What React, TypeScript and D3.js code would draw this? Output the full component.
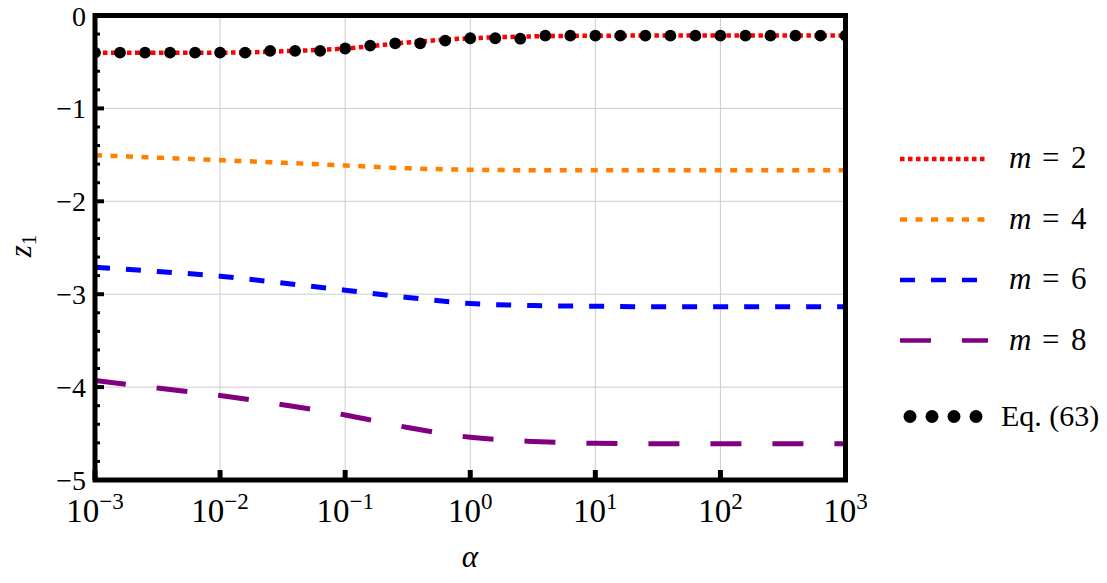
import React from "react";
import * as d3 from "d3";

// ---- data ----
const lineAlpha = [1e-3, 10 ** -2.5, 1e-2, 10 ** -1.5, 1e-1, 10 ** -0.5, 1, 10 ** 0.5, 10, 10 ** 1.5, 100, 10 ** 2.5, 1000];
const m2Values = [-0.40, -0.40, -0.40, -0.385, -0.355, -0.29, -0.245, -0.225, -0.218, -0.216, -0.215, -0.215, -0.215];
const m4Values = [-1.503, -1.53, -1.557, -1.585, -1.614, -1.645, -1.66, -1.665, -1.665, -1.665, -1.665, -1.665, -1.665];
const m6Values = [-2.709, -2.755, -2.806, -2.88, -2.957, -3.035, -3.10, -3.122, -3.13, -3.135, -3.135, -3.135, -3.135];
const m8Values = [-3.93, -4.01, -4.09, -4.19, -4.30, -4.435, -4.54, -4.585, -4.605, -4.61, -4.61, -4.61, -4.61];

const eqExponents = [-3, -2.8, -2.6, -2.4, -2.2, -2, -1.8, -1.6, -1.4, -1.2, -1, -0.8, -0.6, -0.4, -0.2, 0, 0.2, 0.4, 0.6, 0.8, 1, 1.2, 1.4, 1.6, 1.8, 2, 2.2, 2.4, 2.6, 2.8, 3];
const eqValues = [-0.40, -0.40, -0.40, -0.40, -0.40, -0.40, -0.40, -0.38, -0.38, -0.38, -0.355, -0.325, -0.30, -0.30, -0.27, -0.245, -0.245, -0.25, -0.217, -0.217, -0.217, -0.217, -0.217, -0.217, -0.217, -0.217, -0.217, -0.217, -0.217, -0.217, -0.217];

const xTickExps = [-3, -2, -1, 0, 1, 2, 3];
const yTicks = [0, -1, -2, -3, -4, -5];
const seriesLabels = ["2", "4", "6", "8"];
const eqLabel = "Eq. (63)";

const series = [
  { label: seriesLabels[0], values: m2Values, color: "#ff0000", dash: "4.5 3.5", width: 4.5 },
  { label: seriesLabels[1], values: m4Values, color: "#ff8000", dash: "7 8.5", width: 4.5 },
  { label: seriesLabels[2], values: m6Values, color: "#0000ff", dash: "15 16", width: 5 },
  { label: seriesLabels[3], values: m8Values, color: "#800080", dash: "31 31", width: 5 },
];

const W = 1107, H = 583;
const L = 95, R = 845.5, T = 15.5, B = 480;
const FONT = "Liberation Serif";

export default function App() {
  const x = d3.scaleLog().domain([1e-3, 1e3]).range([L, R]);
  const y = d3.scaleLinear().domain([-5, 0]).range([B, T]);
  const line = d3
    .line<[number, number]>()
    .x((d) => x(d[0]))
    .y((d) => y(d[1]))
    .curve(d3.curveMonotoneX);

  const minorY = d3.range(-5, 0.001, 0.2).map((v) => Math.round(v * 10) / 10);

  const legendY = [159, 219.5, 280, 340.5];
  const eqY = 416.5;

  return (
    <svg width={W} height={H} style={{ position: "absolute", left: 0, top: 0, background: "#fff" }} fontFamily={FONT}>
      <defs>
        <clipPath id="plotclip">
          <rect x={L} y={T} width={R - L} height={B - T} />
        </clipPath>
      </defs>
      {/* grid */}
      {xTickExps.map((e) => (
        <line key={"gx" + e} x1={x(10 ** e)} x2={x(10 ** e)} y1={T} y2={B} stroke="#cccccc" strokeWidth={1} />
      ))}
      {yTicks.map((v) => (
        <line key={"gy" + v} x1={L} x2={R} y1={y(v)} y2={y(v)} stroke="#cccccc" strokeWidth={1} />
      ))}
      <g clipPath="url(#plotclip)">
        {series.map((s) => (
          <path
            key={s.label}
            d={line(lineAlpha.map((a, i) => [a, s.values[i]] as [number, number])) || ""}
            fill="none"
            stroke={s.color}
            strokeWidth={s.width}
            strokeDasharray={s.dash}
          />
        ))}
        {eqExponents.map((e, i) => (
          <circle key={"d" + i} cx={x(10 ** e)} cy={y(eqValues[i])} r={5.9} fill="#000" />
        ))}
      </g>
      {/* ticks */}
      {minorY.map((v) => {
        const major = Math.abs(v - Math.round(v)) < 1e-6;
        return (
          <line
            key={"ty" + v}
            x1={L}
            x2={L + (major ? 9 : 5)}
            y1={y(v)}
            y2={y(v)}
            stroke="#000"
            strokeWidth={major ? 4 : 3}
          />
        );
      })}
      {xTickExps.map((e) => (
        <line key={"tx" + e} x1={x(10 ** e)} x2={x(10 ** e)} y1={B} y2={B - 10} stroke="#000" strokeWidth={5} />
      ))}
      {/* frame */}
      <rect x={L} y={T} width={R - L} height={B - T} fill="none" stroke="#000" strokeWidth={5} />
      {/* tick labels */}
      {yTicks.map((v) => (
        <text key={"ly" + v} x={86} y={y(v) + 10} textAnchor="end" fontSize={28}>
          {v === 0 ? "0" : "\u2212" + Math.abs(v)}
        </text>
      ))}
      {xTickExps.map((e) => (
        <text key={"lx" + e} x={x(10 ** e)} y={522} textAnchor="middle" fontSize={33}>
          10
          <tspan dy={-13} fontSize={23}>
            {e < 0 ? "\u2212" + Math.abs(e) : String(e)}
          </tspan>
        </text>
      ))}
      {/* axis titles */}
      <text x={470} y={567} textAnchor="middle" fontSize={31} fontStyle="italic">
        α
      </text>
      <text transform="translate(31,246) rotate(-90)" textAnchor="middle" fontSize={31}>
        <tspan fontStyle="italic">z</tspan>
        <tspan dy={5} fontSize={21}>1</tspan>
      </text>
      {/* legend */}
      {series.map((s, i) => (
        <g key={"lg" + s.label}>
          <line x1={900} x2={988} y1={legendY[i]} y2={legendY[i]} stroke={s.color} strokeWidth={4.5} strokeDasharray={s.dash} />
          <text y={legendY[i] + 9} fontSize={31}>
            <tspan x={1009} fontStyle="italic">m</tspan>
            <tspan x={1042}>=</tspan>
            <tspan x={1071}>{s.label}</tspan>
          </text>
        </g>
      ))}
      {[0, 1, 2, 3].map((k) => (
        <circle key={"lgd" + k} cx={910 + k * 22} cy={eqY} r={6.5} fill="#000" />
      ))}
      <text x={1001} y={eqY + 9} fontSize={30}>
        {eqLabel}
      </text>
    </svg>
  );
}
